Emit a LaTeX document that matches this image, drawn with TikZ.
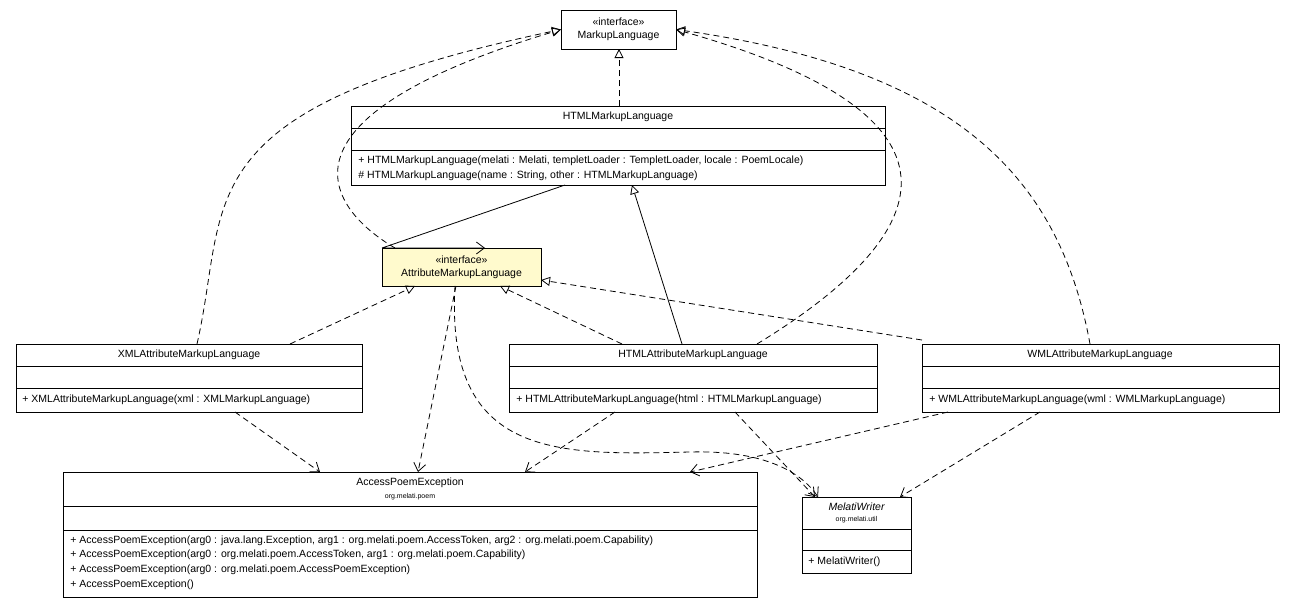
\documentclass[tikz,border=0pt]{standalone}
\usepackage{fontspec}
\setmainfont{Liberation Sans}
\usetikzlibrary{arrows.meta}
\begin{document}
\begin{tikzpicture}[x=1pt,y=-1pt,
  box/.style={draw,line width=0.9pt,anchor=north west,inner sep=0,outer sep=0},
  txt/.style={font=\fontsize{10.5}{12}\selectfont,inner sep=0},
  sm/.style={font=\fontsize{7}{8}\selectfont,inner sep=0},
  real/.style={dash pattern=on 6pt off 4pt,-{Triangle[open,length=9pt,width=9pt]},fill=none},
  gen/.style={-{Triangle[open,length=9pt,width=9pt]}},
  dep/.style={dash pattern=on 6pt off 4pt,-{Straight Barb[length=8pt,width=12pt]}},
  assoc/.style={-{Straight Barb[length=8pt,width=12pt]}},
  every path/.style={line width=0.8pt}]
\useasboundingbox (0,0) rectangle (1296,608);
\fill[white] (0,0) rectangle (1296,608);
% MarkupLanguage
\node[box,minimum width=115,minimum height=39] (ml) at (561,10) {};
\node[txt] (ml1) at (618.5,22) {«interface»};
\node[txt] (ml2) at (618.5,36) {MarkupLanguage};
% HTMLMarkupLanguage
\node[box,minimum width=534,minimum height=79] (hml) at (351,106) {};
\draw (351,128)--(885,128) (351,150)--(885,150);
\node[txt] (hmlN) at (618,117) {HTMLMarkupLanguage};
\node[txt,anchor=west] (hmlM1) at (358,161) {+ HTMLMarkupLanguage(melati : Melati, templetLoader : TempletLoader, locale : PoemLocale)};
\node[txt,anchor=west] (hmlM2) at (358,176) {\# HTMLMarkupLanguage(name : String, other : HTMLMarkupLanguage)};
% AttributeMarkupLanguage
\node[box,fill={rgb,255:red,255;green,250;blue,205},minimum width=159,minimum height=38] (aml) at (382,248) {};
\node[txt] (aml1) at (461.5,260) {«interface»};
\node[txt] (aml2) at (461.5,274) {AttributeMarkupLanguage};
% XML
\node[box,minimum width=346,minimum height=68] (xml) at (16,344) {};
\draw (16,366)--(362,366) (16,388)--(362,388);
\node[txt] (xmlN) at (189,355) {XMLAttributeMarkupLanguage};
\node[txt,anchor=west] (xmlM) at (22,400) {+ XMLAttributeMarkupLanguage(xml : XMLMarkupLanguage)};
% HTMLAttr
\node[box,minimum width=368,minimum height=68] (haml) at (509,344) {};
\draw (509,366)--(877,366) (509,388)--(877,388);
\node[txt] (hamlN) at (693,355) {HTMLAttributeMarkupLanguage};
\node[txt,anchor=west] (hamlM) at (516,400) {+ HTMLAttributeMarkupLanguage(html : HTMLMarkupLanguage)};
% WML
\node[box,minimum width=357,minimum height=68] (wml) at (922,344) {};
\draw (922,366)--(1279,366) (922,388)--(1279,388);
\node[txt] (wmlN) at (1100,355) {WMLAttributeMarkupLanguage};
\node[txt,anchor=west] (wmlM) at (929,400) {+ WMLAttributeMarkupLanguage(wml : WMLMarkupLanguage)};
% AccessPoemException
\node[box,minimum width=694,minimum height=125] (ape) at (63,472) {};
\draw (63,506)--(757,506) (63,530)--(757,530);
\node[txt] (apeN) at (410,483) {AccessPoemException};
\node[sm] (apeP) at (410,497) {org.melati.poem};
\node[txt,anchor=west] (apeM1) at (70,541) {+ AccessPoemException(arg0 : java.lang.Exception, arg1 : org.melati.poem.AccessToken, arg2 : org.melati.poem.Capability)};
\node[txt,anchor=west] (apeM2) at (70,555) {+ AccessPoemException(arg0 : org.melati.poem.AccessToken, arg1 : org.melati.poem.Capability)};
\node[txt,anchor=west] (apeM3) at (70,570) {+ AccessPoemException(arg0 : org.melati.poem.AccessPoemException)};
\node[txt,anchor=west] (apeM4) at (70,585) {+ AccessPoemException()};
% MelatiWriter
\node[box,minimum width=109,minimum height=76] (mw) at (802,497) {};
\draw (802,529)--(911,529) (802,550)--(911,550);
\node[txt] (mwN) at (856.5,507) {\itshape MelatiWriter};
\node[sm] (mwP) at (856.5,520) {org.melati.util};
\node[txt,anchor=west] (mwM) at (808,562) {+ MelatiWriter()};
% realizations to MarkupLanguage
\draw[real] (hml.north -| 619,0) -- (ml.south -| 619,0);
\draw[real] (aml.north west) ++(13,0) .. controls (330,210) and (260,120) .. (ml.west);
\draw[real] (xml.north west) ++(181,0) .. controls (230,200) and (180,110) .. (ml.west);
\draw[real] (haml.north west) ++(248,0) .. controls (960,220) and (960,110) .. (ml.east);
\draw[real] (wml.north west) ++(168,0) .. controls (1060,180) and (960,70) .. (ml.east);
% association
\draw[assoc] (hml.south west) ++(214,0) -- (aml.north west) ++(0,0) -- (485,248);
% generalization
\draw[gen] (haml.north west) ++(173,0) -- (632,185);
% realizations to AttributeMarkupLanguage
\draw[real] (xml.north west) ++(274,0) -- (415,286);
\draw[real] (haml.north west) ++(113,0) -- (500,286);
\draw[real] (wml.north west) ++(0,-4) -- (aml.east |- 0,280);
% dependencies
\draw[dep] (xml.south west) ++(219,0) -- (320,472);
\draw[dep] (aml.south west) ++(74,0) -- (418,472);
\draw[dep] (aml.south west) ++(74,0) ++(0,0) (455,286) .. controls (445,460) and (560,455) .. (690,452) .. controls (760,450) and (800,470) .. (818,497);
\draw[dep] (haml.south west) ++(106,0) -- (525,472);
\draw[dep] (haml.south west) ++(226,0) -- (815,497);
\draw[dep] (wml.south west) ++(26,0) -- (690,472);
\draw[dep] (wml.south west) ++(118,0) -- (900,497);
\end{tikzpicture}
\end{document}
